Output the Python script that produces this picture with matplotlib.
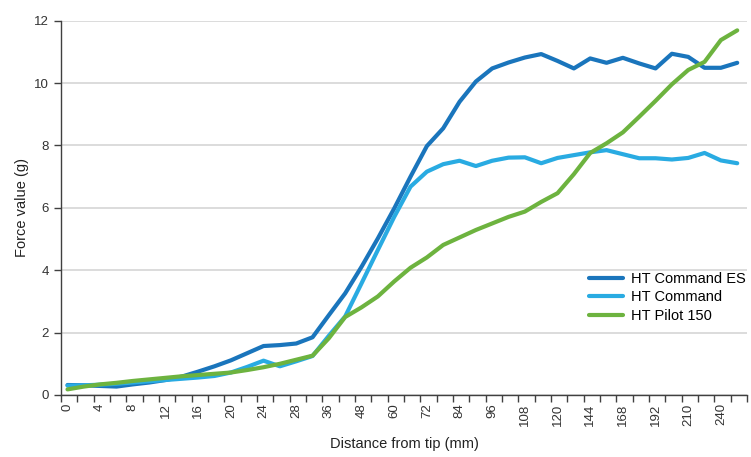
import numpy as np
import matplotlib
matplotlib.use("Agg")
import matplotlib.pyplot as plt

# distances along the wire (mm), one per category
distance = [0, 2, 4, 6, 8, 10, 12, 14, 16, 18, 20, 22, 24, 26, 28, 32, 36, 42, 48, 54,
            60, 66, 72, 78, 84, 90, 96, 102, 108, 114, 120, 132, 144, 156, 168, 180,
            192, 200, 210, 225, 240, 250]

ht_command_es = [0.32, 0.31, 0.29, 0.27, 0.34, 0.40, 0.48, 0.59, 0.75, 0.92, 1.11, 1.34,
                 1.57, 1.60, 1.65, 1.85, 2.56, 3.26, 4.11, 5.02, 5.98, 7.00, 7.98, 8.55,
                 9.40, 10.05, 10.47, 10.66, 10.82, 10.93, 10.71, 10.47, 10.79, 10.65,
                 10.81, 10.63, 10.47, 10.94, 10.84, 10.49, 10.49, 10.65]

ht_command = [0.30, 0.31, 0.33, 0.36, 0.40, 0.44, 0.48, 0.52, 0.56, 0.61, 0.72, 0.90,
              1.10, 0.92, 1.08, 1.25, 1.90, 2.52, 3.58, 4.65, 5.71, 6.68, 7.16, 7.40,
              7.51, 7.34, 7.51, 7.61, 7.62, 7.43, 7.60, 7.69, 7.78, 7.85, 7.72, 7.59,
              7.59, 7.55, 7.60, 7.76, 7.52, 7.43]

ht_pilot_150 = [0.18, 0.27, 0.34, 0.39, 0.45, 0.50, 0.55, 0.60, 0.64, 0.68, 0.72, 0.80,
                0.89, 1.00, 1.13, 1.26, 1.82, 2.50, 2.81, 3.16, 3.64, 4.08, 4.41, 4.81,
                5.05, 5.29, 5.50, 5.71, 5.88, 6.19, 6.47, 7.08, 7.76, 8.07, 8.42, 8.92,
                9.43, 9.96, 10.42, 10.68, 11.38, 11.69]

plt.rcParams['font.family'] = ['Liberation Sans', 'DejaVu Sans']

fig = plt.figure(figsize=(7.51, 4.57), dpi=100)
ax = fig.add_axes([0.0812, 0.1357, 0.9135, 0.819])

x = np.arange(len(distance))
ax.plot(x, ht_command_es, color='#1a75bc', lw=3, label='HT Command ES', solid_capstyle='round', solid_joinstyle='round')
ax.plot(x, ht_command, color='#29abe2', lw=3, label='HT Command', solid_capstyle='round', solid_joinstyle='round')
ax.plot(x, ht_pilot_150, color='#6db33f', lw=3, label='HT Pilot 150', solid_capstyle='round', solid_joinstyle='round')

ax.set_xlim(-0.37, len(distance) - 0.56)
ax.set_ylim(0, 12)
ax.set_yticks(np.arange(0, 13, 2))
ax.yaxis.grid(True, color='#d9d9d9', lw=1.3)
ax.set_axisbelow(True)

ax.set_xticks(x[::2])
ax.set_xticklabels([str(d) for d in distance[::2]], rotation=90)
ax.set_xticks(np.arange(-0.4, len(distance), 1.0), minor=True)
ax.tick_params(axis='x', which='major', length=0, pad=6, labelsize=9.5, colors='#333333')
ax.tick_params(axis='x', which='minor', length=5, width=1, color='#404040')
ax.tick_params(axis='y', length=5, width=1, color='#404040', labelsize=9.5, labelcolor='#333333')

for side in ['top', 'right']:
    ax.spines[side].set_visible(False)
for side in ['left', 'bottom']:
    ax.spines[side].set_color('#404040')
    ax.spines[side].set_linewidth(1)

ax.set_xlabel('Distance from tip (mm)', fontsize=10.5, color='#222222', labelpad=8)
ax.set_ylabel('Force value (g)', fontsize=10.5, color='#222222', labelpad=4)

ax.legend(loc='upper left', bbox_to_anchor=(589 / 751, (457 - 272) / 457),
          bbox_transform=fig.transFigure, frameon=False, fontsize=10.5,
          handlelength=2.3, handletextpad=0.6, labelspacing=0.3,
          borderpad=0, borderaxespad=0)

fig.savefig('out.png', dpi=100)
